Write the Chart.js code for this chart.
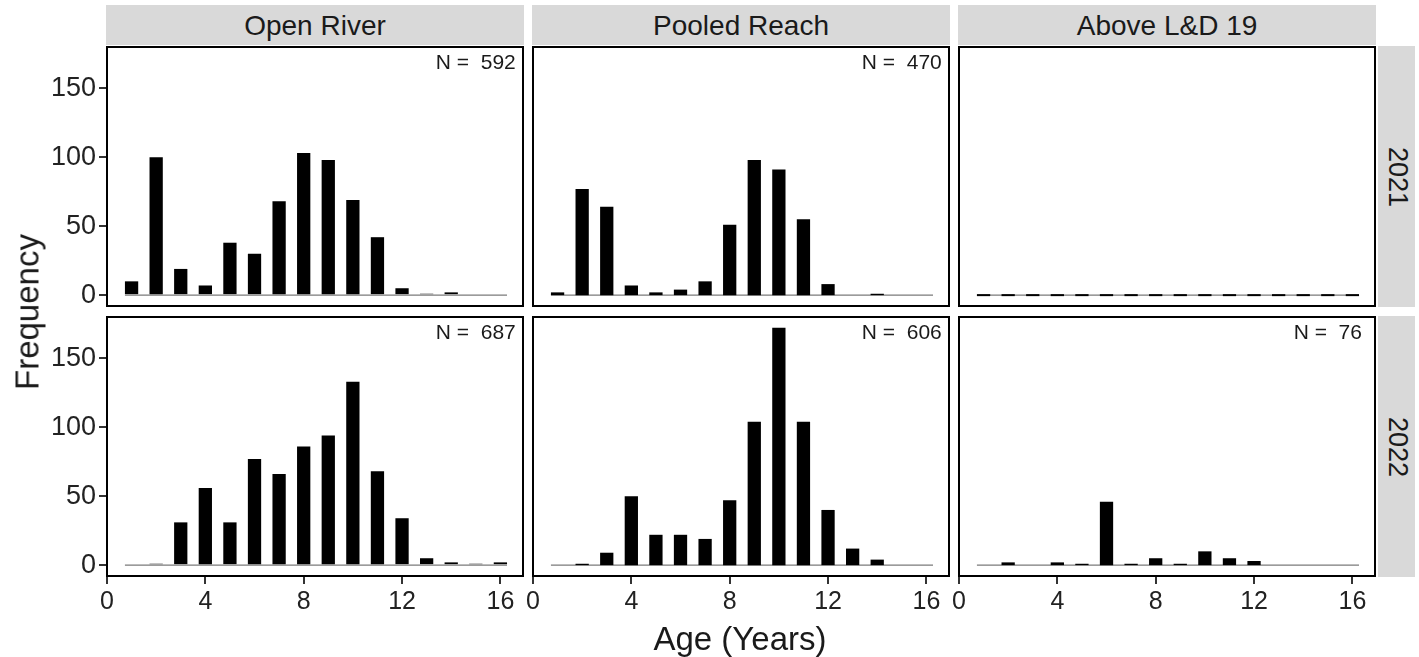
<!DOCTYPE html>
<html>
<head>
<meta charset="utf-8">
<script src="https://cdn.jsdelivr.net/npm/chart.js@4.4.1/dist/chart.umd.min.js"></script>
<style>
  body { margin: 0; background: #fff; font-family: 'Liberation Sans', Arial, sans-serif; }
  #fig { position: relative; width: 1419px; height: 657px; overflow: hidden; }
  #fig canvas { position: absolute; }
  .strip { position: absolute; background: #d9d9d9; }
  .txt { position: absolute; white-space: pre; line-height: 1; color: #1a1a1a; }
</style>
</head>
<body>
<div id="fig"></div>
<script>
// Age distribution by reach and year
const ages = [1, 2, 3, 4, 5, 6, 7, 8, 9, 10, 11, 12, 13, 14, 15, 16];
const openRiver2021   = [10, 100, 19, 7, 38, 30, 68, 103, 98, 69, 42, 5, 1, 2, 0, 0];
const pooledReach2021 = [2, 77, 64, 7, 2, 4, 10, 51, 98, 91, 55, 8, 0, 1, 0, 0];
const aboveLD2021     = [0, 0, 0, 0, 0, 0, 0, 0, 0, 0, 0, 0, 0, 0, 0, 0];
const openRiver2022   = [0, 1, 31, 56, 31, 77, 66, 86, 94, 133, 68, 34, 5, 2, 1, 2];
const pooledReach2022 = [0, 1, 9, 50, 22, 22, 19, 47, 104, 172, 104, 40, 12, 4, 0, 0];
const aboveLD2022     = [0, 2, 0, 2, 1, 46, 1, 5, 1, 10, 5, 3, 0, 0, 0, 0];

const reaches = ['Open River', 'Pooled Reach', 'Above L&D 19'];
const years = ['2021', '2022'];
const nCounts = [[592, 470, null], [687, 606, 76]];
const xTicks = [0, 4, 8, 12, 16];
const yTicks = [0, 50, 100, 150];

const counts = [
  [openRiver2021, pooledReach2021, aboveLD2021],
  [openRiver2022, pooledReach2022, aboveLD2022]
];

Chart.defaults.font.family = "'Liberation Sans', Arial, sans-serif";

const fig = document.getElementById('fig');
const COLS = [106, 532, 958];
const ROWS = [46, 316];
const W = 418, H = 261;

function addText(str, cx, cy, size, rot) {
  const d = document.createElement('div');
  d.className = 'txt';
  d.textContent = str;
  d.style.fontSize = size + 'px';
  d.style.left = cx + 'px';
  d.style.top = cy + 'px';
  d.style.transform = 'translate(-50%,-50%)' + (rot ? ' rotate(' + rot + 'deg)' : '');
  fig.appendChild(d);
  return d;
}

function addBox(x, y, w, h) {
  const d = document.createElement('div');
  d.className = 'strip';
  d.style.left = x + 'px';
  d.style.top = y + 'px';
  d.style.width = w + 'px';
  d.style.height = h + 'px';
  fig.appendChild(d);
}

const framePlugin = {
  id: 'frame',
  afterDraw(chart) {
    const { ctx, chartArea: a } = chart;
    ctx.save();
    ctx.strokeStyle = '#000';
    ctx.lineWidth = 2;
    ctx.strokeRect(a.left + 1, a.top + 1, a.width - 2, a.height - 2);
    ctx.restore();
  }
};

function drawPanel(row, col) {
  const showY = col === 0, showX = row === 1;
  const padL = showY ? 66 : 14, padR = 14, padB = showX ? 46 : 0;
  const vals = counts[row][col];
  const allZero = vals.every(v => v === 0);

  const cv = document.createElement('canvas');
  cv.width = W + padL + padR;
  cv.height = H + padB;
  cv.style.left = (COLS[col] - padL) + 'px';
  cv.style.top = ROWS[row] + 'px';
  cv.style.width = cv.width + 'px';
  cv.style.height = cv.height + 'px';
  fig.appendChild(cv);

  const tickGrid = { display: true, drawOnChartArea: false, offset: false, tickLength: 7, tickColor: '#333', lineWidth: 2 };

  const chart = new Chart(cv, {
    type: 'bar',
    data: {
      datasets: [
        {
          data: ages.map((a, i) => ({ x: a, y: vals[i] })),
          backgroundColor: '#000',
          borderWidth: 0,
          barPercentage: 0.54,
          categoryPercentage: 1,
          minBarLength: allZero ? 2 : 0,
          order: 0
        },
        {
          type: 'line',
          data: [{ x: ages[0] - 0.27, y: 0 }, { x: ages[ages.length - 1] + 0.27, y: 0 }],
          borderColor: '#7a7a7a',
          borderWidth: 1.2,
          pointRadius: 0,
          order: 1
        }
      ]
    },
    options: {
      responsive: false,
      maintainAspectRatio: false,
      animation: false,
      events: [],
      layout: { padding: { left: showY ? 0 : 14, right: padR, top: 0, bottom: 0 } },
      plugins: { legend: { display: false }, tooltip: { enabled: false } },
      scales: {
        x: {
          type: 'linear', min: -0.04, max: 16.96, offset: false, display: showX,
          grid: tickGrid, border: { display: false },
          ticks: { autoSkip: false, maxRotation: 0, color: '#222', font: { size: 25 }, padding: 3 },
          afterBuildTicks: s => { s.ticks = xTicks.map(v => ({ value: v })); },
          afterFit: s => {
            if (showX) s.height = 46;
            s.paddingLeft = 0; s.paddingRight = 0;
          }
        },
        y: {
          type: 'linear', min: -8.6, max: 180.6, display: showY,
          grid: tickGrid, border: { display: false },
          ticks: { color: '#222', font: { size: 27 }, padding: 3 },
          afterBuildTicks: s => { s.ticks = yTicks.map(v => ({ value: v })); },
          afterFit: s => {
            if (showY) s.width = 66;
            s.paddingTop = 0; s.paddingBottom = 0;
          }
        }
      }
    },
    plugins: [framePlugin]
  });

  // sample size label, placed through the panel's scales
  const n = nCounts[row][col];
  if (n !== null) {
    const px = chart.scales.x.getPixelForValue(15) + COLS[col] - padL;
    const py = chart.scales.y.getPixelForValue(170) + ROWS[row];
    addText('N =  ' + n, px, py, 21);
  }
}

// strips
reaches.forEach((r, c) => {
  addBox(COLS[c], 5, W, 40);
  addText(r, COLS[c] + W / 2, 26, 28);
});
years.forEach((y, r) => {
  addBox(1378, ROWS[r], 37, H);
  addText(y, 1397, ROWS[r] + H / 2, 27, 90);
});

for (let r = 0; r < 2; r++) {
  for (let c = 0; c < 3; c++) drawPanel(r, c);
}

addText('Frequency', 27, 312, 33, -90);
addText('Age (Years)', 740, 638, 33);
</script>
</body>
</html>
